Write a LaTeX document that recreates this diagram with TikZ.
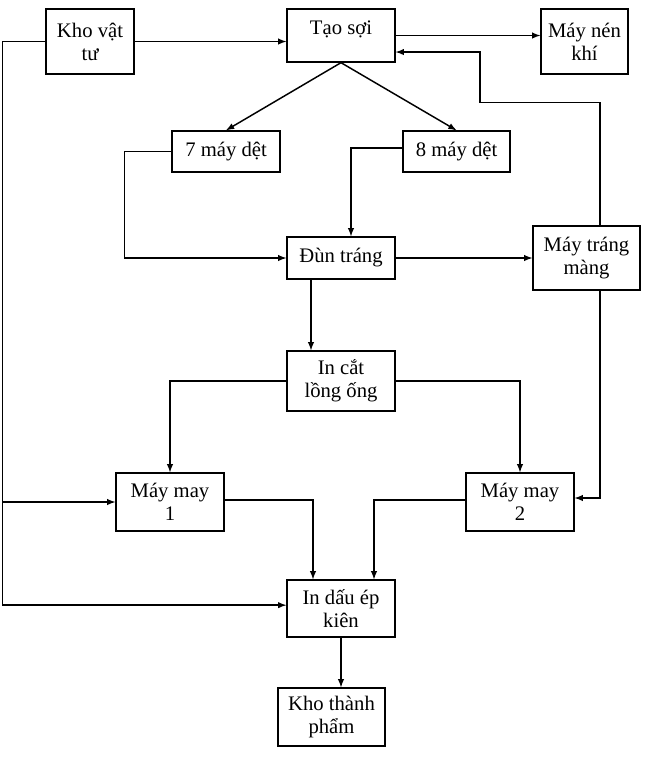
\documentclass[tikz,border=0pt]{standalone}
\usepackage{fontspec}
\setmainfont{Liberation Serif}
\usetikzlibrary{arrows}

\begin{document}
\begin{tikzpicture}[
      x=0.75pt, y=-0.75pt,
      step box/.style={
        rectangle,
        draw=black,
        line width=1pt,
        text centered,
        align=center,
        inner sep=1pt,
        font=\fontsize{15.5pt}{17.3pt}\selectfont,
        minimum width=81pt,
        minimum height=44pt
      },
      link/.style={-latex, line width=1.1pt}
    ]

    \useasboundingbox (0,0) rectangle (660,765);

    \node [step box, minimum width=66pt, minimum height=48.75pt] (KhoVT) at (90,41.5) {Kho vật\\tư};
    \node [step box, minimum height=39.75pt, text depth=12pt] (TaoSoi) at (341,35.5) {Tạo sợi};
    \node [step box, minimum width=65.25pt, minimum height=48.75pt] (MayNen) at (584.5,41.5) {Máy nén\\khí};
    \node [step box, minimum height=30.75pt] (Det7) at (226,151.5) {7 máy dệt};
    \node [step box, minimum width=80.25pt, minimum height=30.75pt] (Det8) at (456.5,151.5) {8 máy dệt};
    \node [step box, minimum height=31.5pt] (DunTrang) at (341,258) {Đùn tráng};
    \node [step box, minimum width=80.25pt, minimum height=48pt] (TrangMang) at (586.5,258) {Máy tráng\\màng};
    \node [step box, minimum height=45pt] (InCat) at (341,381) {In cắt\\lồng ống};
    \node [step box, minimum height=43.5pt] (May1) at (170,502) {Máy may\\1};
    \node [step box, minimum height=43.5pt] (May2) at (520,502) {Máy may\\2};
    \node [step box, minimum height=42.75pt] (InDau) at (341,608.5) {In dấu ép\\kiên};
    \node [step box, minimum width=80.25pt, minimum height=43.5pt] (KhoTP) at (331.5,717) {Kho thành\\phẩm};

    % top row
    \draw [link] (KhoVT.east) -- (KhoVT.east -| TaoSoi.west);
    \draw [link] (TaoSoi.east) -- (TaoSoi.east -| MayNen.west);
    \draw [link] (TaoSoi.south) -- (Det7.north);
    \draw [link] (TaoSoi.south) -- (Det8.north);

    % weaving into extrusion
    \draw [link] (Det7.west) -- ++(-47,0) |- (DunTrang.west);
    \draw [link] ([yshift=2.5pt]Det8.west) -| ([xshift=7.5pt]DunTrang.north);
    \draw [link] (DunTrang.east) -- (TrangMang.west);
    \draw [link] ([xshift=10pt]TrangMang.north) -- ++(0,-123) -- ++(-120,0) |- ([yshift=-12.4pt]TaoSoi.east);
    \draw [link] ([xshift=10pt]TrangMang.south) |- ([yshift=3pt]May2.east);
    \draw [link] ([xshift=-22.5pt]DunTrang.south) -- ([xshift=-22.5pt]InCat.north);

    % sewing
    \draw [link] (InCat.west) -| (May1.north);
    \draw [link] (InCat.east) -| (May2.north);
    \draw [link] ([yshift=1.5pt]May1.east) -| ([xshift=-21pt]InDau.north);
    \draw [link] ([yshift=1.5pt]May2.west) -| ([xshift=24.75pt]InDau.north);

    % left rail from warehouse
    \draw [link] (KhoVT.west) -- ++(-43,0) coordinate (LeftRail) |- ([yshift=2.5pt]InDau.west);
    \draw [link] (LeftRail |- May1.west) -- (May1.west);
    \draw [link] (InDau.south) -- (InDau.south |- KhoTP.north);

    \end{tikzpicture}
\end{document}
